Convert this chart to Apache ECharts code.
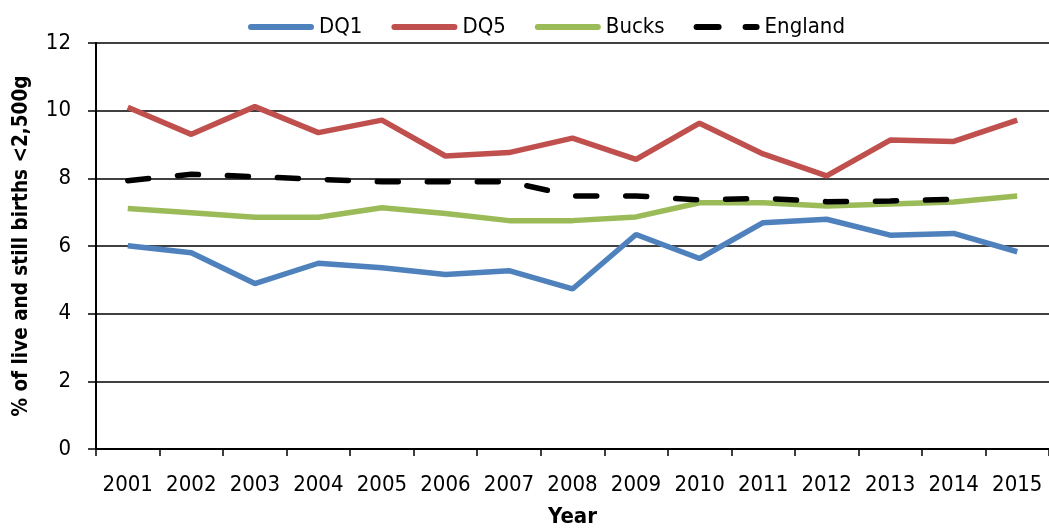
<!DOCTYPE html>
<html>
<head>
<meta charset="UTF-8"/>
<title></title>
<script src="https://cdn.jsdelivr.net/npm/echarts@6/dist/echarts.min.js" type="text/javascript"></script>
<style>
html, body { margin: 0; padding: 0; background: #fff; }
#placeholder { width: 1049px; height: 529px; }
</style>
</head>
<body>
<div id="placeholder"></div>
<script type="text/javascript">
var years = ['2001','2002','2003','2004','2005','2006','2007','2008','2009','2010','2011','2012','2013','2014','2015'];
var dq1 = [6.01, 5.80, 4.89, 5.49, 5.36, 5.16, 5.27, 4.73, 6.34, 5.63, 6.69, 6.79, 6.32, 6.37, 5.83];
var dq5 = [10.10, 9.30, 10.12, 9.35, 9.72, 8.66, 8.76, 9.19, 8.56, 9.63, 8.72, 8.07, 9.13, 9.09, 9.72];
var bucks = [7.11, 6.98, 6.85, 6.85, 7.13, 6.96, 6.75, 6.75, 6.86, 7.28, 7.28, 7.18, 7.24, 7.30, 7.48];
var england = [7.93, 8.12, 8.05, 7.97, 7.90, 7.90, 7.90, 7.48, 7.48, 7.36, 7.41, 7.31, 7.33, 7.38, null];

var font = '"DejaVu Sans Condensed", "Liberation Sans Narrow", sans-serif';
var solidIcon = 'path://M3,0h60a3,3 0 0 1 0,6h-60a3,3 0 0 1 0,-6z';
var dashIcon = 'path://M3,0h22a3,3 0 0 1 0,6h-22a3,3 0 0 1 0,-6z M52,0h11a3,3 0 0 1 0,6h-11a3,3 0 0 1 0,-6z';

//基于准备好的dom，初始化echarts实例
var myChart = echarts.init(document.getElementById('placeholder'));
var option = {
  animation: false,
  textStyle: { fontFamily: font, color: '#000' },
  legend: {
    top: 11,
    left: 243,
    itemWidth: 66,
    itemHeight: 7,
    itemGap: 29,
    textStyle: { fontFamily: font, fontSize: 22, color: '#000' },
    data: [
      { name: 'DQ1', icon: solidIcon },
      { name: 'DQ5', icon: solidIcon },
      { name: 'Bucks', icon: solidIcon },
      { name: 'England', icon: dashIcon }
    ]
  },
  grid: { left: 96, top: 43, width: 953, height: 406, outerBoundsMode: 'none' },
  xAxis: {
    type: 'category',
    boundaryGap: true,
    data: years,
    name: 'Year',
    nameLocation: 'middle',
    nameGap: 57,
    nameTextStyle: { fontFamily: font, fontSize: 22, fontWeight: 'bold', color: '#000' },
    axisLine: { lineStyle: { color: '#000', width: 2 } },
    axisTick: { show: true, length: 7, lineStyle: { color: '#000', width: 1.5 } },
    axisLabel: { fontFamily: font, fontSize: 22, color: '#000', margin: 25, interval: 0 }
  },
  yAxis: {
    type: 'value',
    min: 0,
    max: 12,
    interval: 2,
    name: '% of live and still births <2,500g',
    nameLocation: 'middle',
    nameGap: 64,
    nameTextStyle: { fontFamily: font, fontSize: 20.5, fontWeight: 'bold', color: '#000' },
    axisLine: { show: true, lineStyle: { color: '#000', width: 2 } },
    axisTick: { show: true, length: 8, lineStyle: { color: '#000', width: 1.5 } },
    axisLabel: { fontFamily: font, fontSize: 22, color: '#000', margin: 25 },
    splitLine: { show: true, lineStyle: { color: '#000', width: 1.5 } }
  },
  series: [
    { name: 'DQ1', type: 'line', data: dq1, symbol: 'none', color: '#4F81BD',
      lineStyle: { width: 5.5, color: '#4F81BD' } },
    { name: 'DQ5', type: 'line', data: dq5, symbol: 'none', color: '#C0504D',
      lineStyle: { width: 5.5, color: '#C0504D' } },
    { name: 'Bucks', type: 'line', data: bucks, symbol: 'none', color: '#9BBB59',
      lineStyle: { width: 5.5, color: '#9BBB59' } },
    { name: 'England', type: 'line', data: england, symbol: 'none', color: '#000',
      lineStyle: { width: 5.5, color: '#000', type: [21, 29], cap: 'round' } }
  ]
};
myChart.setOption(option, true);
</script>
</body>
</html>
